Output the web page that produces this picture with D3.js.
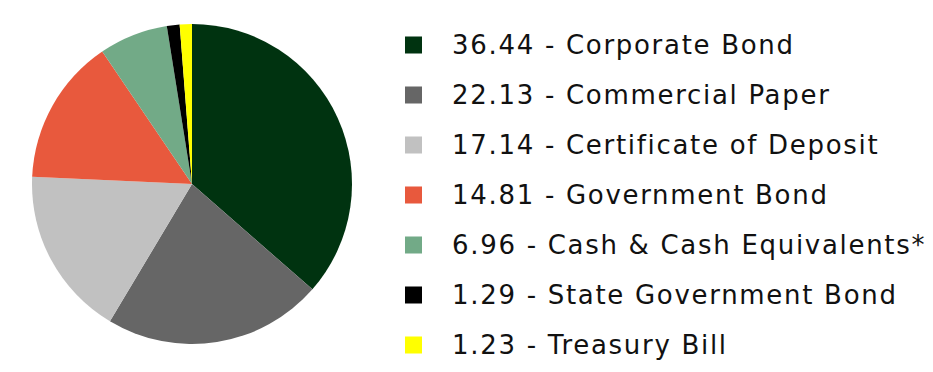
<!DOCTYPE html>
<html>
<head>
<meta charset="utf-8">
<script src="https://cdn.jsdelivr.net/npm/d3@7"></script>
<style>
  body { margin: 0; background: #fff; }
  text { font-family: "DejaVu Sans", sans-serif; }
</style>
</head>
<body>
<div class="chart"></div>
<script>
var categories = ["Corporate Bond", "Commercial Paper", "Certificate of Deposit", "Government Bond",
  "Cash & Cash Equivalents*", "State Government Bond", "Treasury Bill"];
var values = [36.44, 22.13, 17.14, 14.81, 6.96, 1.29, 1.23];
var colors = ["#003310", "#666666", "#c1c1c1", "#e8593d", "#72aa87", "#000000", "#ffff00"];

var svgWidth = 933;
var svgHeight = 372;

var svg = d3.select(".chart")
  .append("svg")
  .attr("width", svgWidth)
  .attr("height", svgHeight);

var data = categories.map(function(c, i) {
  return { name: c, value: values[i], color: colors[i] };
});

var pie = d3.pie()
  .sort(null)
  .value(d => d.value);

var arc = d3.arc()
  .innerRadius(0)
  .outerRadius(160);

var pieGroup = svg.append("g")
  .attr("transform", "translate(192, 184)");

pieGroup.selectAll("path")
  .data(pie(data))
  .enter()
  .append("path")
  .attr("d", arc)
  .attr("fill", d => d.data.color);

// legend
var legendY = d3.scaleBand()
  .domain(categories)
  .range([20, 370]);

var legend = svg.append("g");

var rows = legend.selectAll("g")
  .data(data)
  .enter()
  .append("g")
  .attr("transform", d => `translate(0, ${legendY(d.name) + legendY.bandwidth() / 2})`);

rows.append("rect")
  .attr("x", 405)
  .attr("y", -8.5)
  .attr("width", 17)
  .attr("height", 17)
  .attr("fill", d => d.color);

rows.append("text")
  .attr("x", 452)
  .attr("y", 0)
  .attr("dy", "0.36em")
  .attr("font-size", 26)
  .attr("letter-spacing", 1.7)
  .attr("fill", "#111")
  .text(d => d3.format(".2f")(d.value) + " - " + d.name);
</script>
</body>
</html>
